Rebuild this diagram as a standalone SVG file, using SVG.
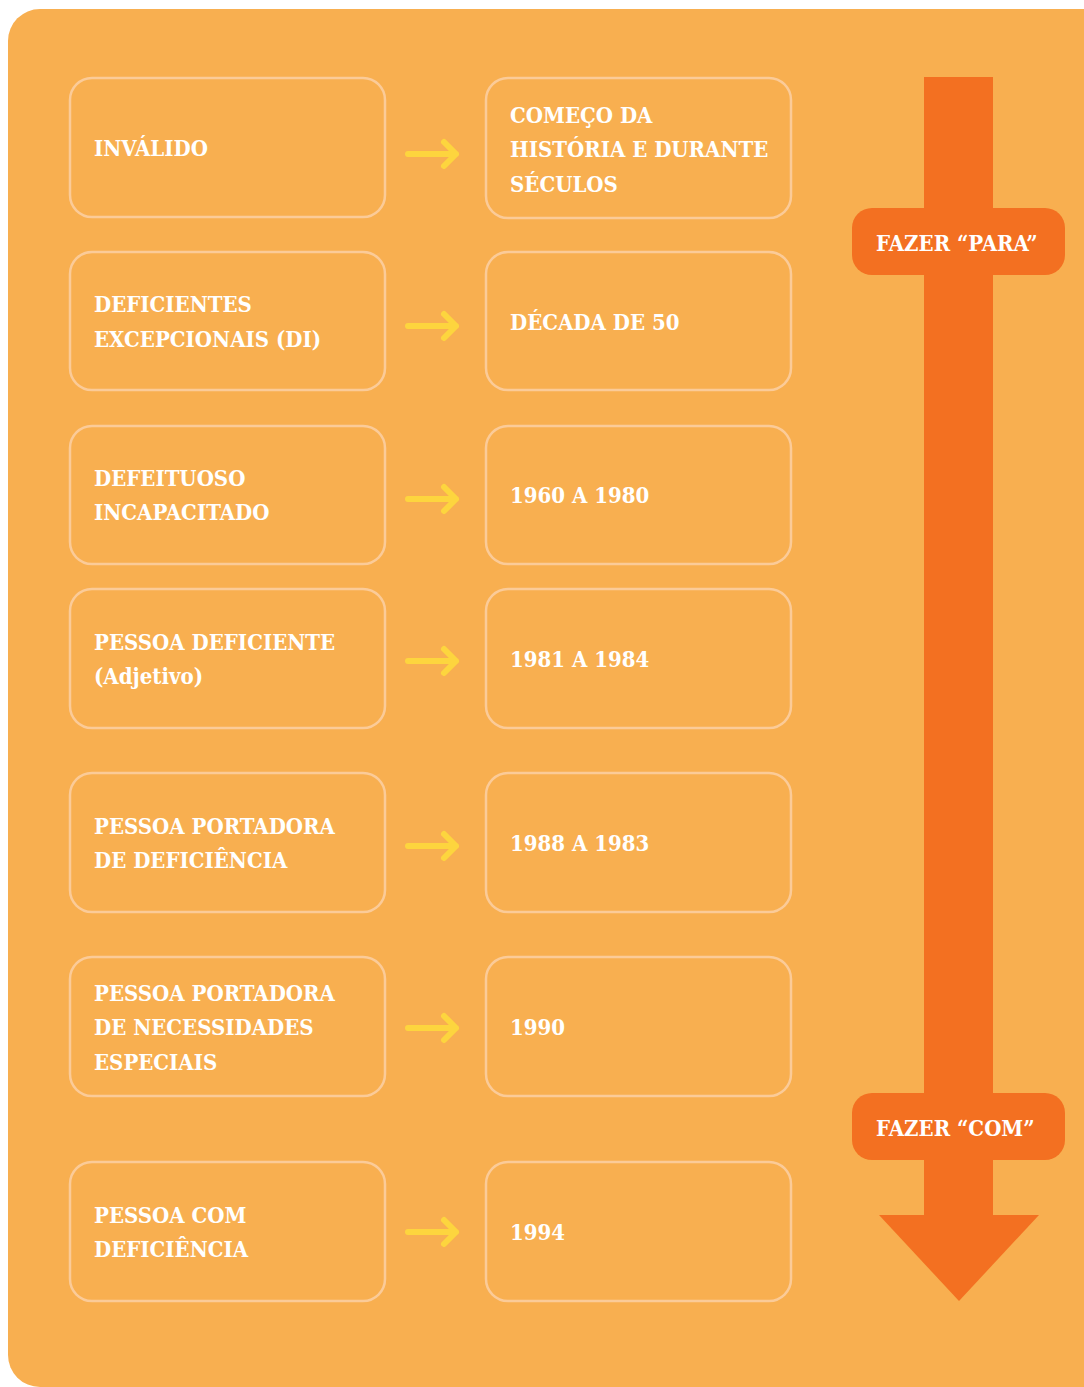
<svg xmlns="http://www.w3.org/2000/svg" width="1084" height="1387" viewBox="0 0 1084 1387">
<defs>
<style>
.bg{fill:#F8AF50}
.box{fill:none;stroke:#FBCB98;stroke-width:2.5}
.t{font-family:"DejaVu Serif Condensed","DejaVu Serif","Liberation Serif",serif;font-weight:bold;font-size:22px;fill:#FFFFFF}
.ar{fill:none;stroke:#FDD53E;stroke-width:6;stroke-linecap:round;stroke-linejoin:round}
.big{fill:#F37021}
</style>
</defs>
<rect width="1084" height="1387" fill="#FFFFFF"/>
<rect class="bg" x="8" y="9" width="1110" height="1378" rx="32"/>

<g id="timeline">
<rect class="big" x="924" y="77" width="69" height="1140"/>
<polygon class="big" points="879,1215 1039,1215 959,1301"/>
</g>
<g id="label-para">
<rect class="big" x="852" y="208" width="213" height="67" rx="20"/>
<text class="t" x="876" y="251">FAZER “PARA”</text>
</g>
<g id="label-com">
<rect class="big" x="852" y="1093" width="213" height="67" rx="20"/>
<text class="t" x="876" y="1136">FAZER “COM”</text>
</g>

<g id="connectors">
<path class="ar" d="M408,154 H456 M444,142 L456,154 L444,166"/>
<path class="ar" d="M408,326 H456 M444,314 L456,326 L444,338"/>
<path class="ar" d="M408,499 H456 M444,487 L456,499 L444,511"/>
<path class="ar" d="M408,661 H456 M444,649 L456,661 L444,673"/>
<path class="ar" d="M408,846 H456 M444,834 L456,846 L444,858"/>
<path class="ar" d="M408,1028 H456 M444,1016 L456,1028 L444,1040"/>
<path class="ar" d="M408,1232 H456 M444,1220 L456,1232 L444,1244"/>
</g>

<g id="n1"><rect class="box" x="70" y="78" width="315" height="139" rx="22"/><text class="t" x="94" y="156">INVÁLIDO</text></g>
<g id="n2"><rect class="box" x="70" y="252" width="315" height="138" rx="22"/><text class="t" x="94" y="312">DEFICIENTES</text><text class="t" x="94" y="347">EXCEPCIONAIS (DI)</text></g>
<g id="n3"><rect class="box" x="70" y="426" width="315" height="138" rx="22"/><text class="t" x="94" y="486">DEFEITUOSO</text><text class="t" x="94" y="520">INCAPACITADO</text></g>
<g id="n4"><rect class="box" x="70" y="589" width="315" height="139" rx="22"/><text class="t" x="94" y="650">PESSOA DEFICIENTE</text><text class="t" x="94" y="684">(Adjetivo)</text></g>
<g id="n5"><rect class="box" x="70" y="773" width="315" height="139" rx="22"/><text class="t" x="94" y="834">PESSOA PORTADORA</text><text class="t" x="94" y="868">DE DEFICIÊNCIA</text></g>
<g id="n6"><rect class="box" x="70" y="957" width="315" height="139" rx="22"/><text class="t" x="94" y="1001">PESSOA PORTADORA</text><text class="t" x="94" y="1035">DE NECESSIDADES</text><text class="t" x="94" y="1070">ESPECIAIS</text></g>
<g id="n7"><rect class="box" x="70" y="1162" width="315" height="139" rx="22"/><text class="t" x="94" y="1223">PESSOA COM</text><text class="t" x="94" y="1257">DEFICIÊNCIA</text></g>

<g id="d1"><rect class="box" x="486" y="78" width="305" height="140" rx="22"/><text class="t" x="510" y="123">COMEÇO DA</text><text class="t" x="510" y="157">HISTÓRIA E DURANTE</text><text class="t" x="510" y="192">SÉCULOS</text></g>
<g id="d2"><rect class="box" x="486" y="252" width="305" height="138" rx="22"/><text class="t" x="510" y="330">DÉCADA DE 50</text></g>
<g id="d3"><rect class="box" x="486" y="426" width="305" height="138" rx="22"/><text class="t" x="510" y="503">1960 A 1980</text></g>
<g id="d4"><rect class="box" x="486" y="589" width="305" height="139" rx="22"/><text class="t" x="510" y="667">1981 A 1984</text></g>
<g id="d5"><rect class="box" x="486" y="773" width="305" height="139" rx="22"/><text class="t" x="510" y="851">1988 A 1983</text></g>
<g id="d6"><rect class="box" x="486" y="957" width="305" height="139" rx="22"/><text class="t" x="510" y="1035">1990</text></g>
<g id="d7"><rect class="box" x="486" y="1162" width="305" height="139" rx="22"/><text class="t" x="510" y="1240">1994</text></g>
</svg>
